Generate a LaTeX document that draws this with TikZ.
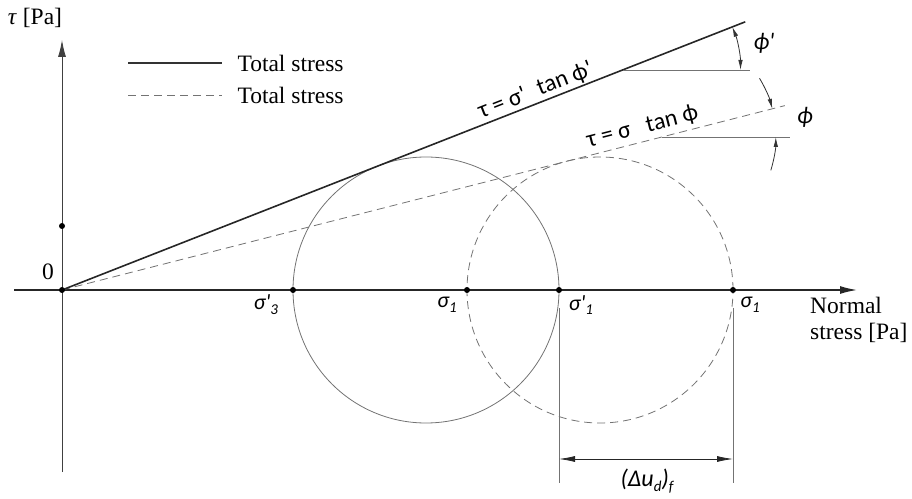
\documentclass[tikz,border=0pt]{standalone}
\usepackage{fontspec}
\setmainfont{Liberation Serif}
\newfontfamily\carl{Carlito}
\usetikzlibrary{arrows.meta,calc}
\newcommand\lsub[1]{\raisebox{-0.45ex}{\fontsize{15}{15}\selectfont #1}}
\begin{document}
\begin{tikzpicture}[x=1pt,y=1pt,
  thinl/.style={draw=black!55, line width=0.8pt},
  axisl/.style={draw=black!85, line width=1.4pt},
  yaxisl/.style={draw=black!75, line width=0.9pt},
  envel/.style={draw=black!85, line width=1.6pt},
  dashl/.style={draw=black!55, line width=0.8pt, dash pattern=on 8pt off 5pt},
  mohr/.style={circle, inner sep=0pt, outer sep=0pt, minimum size=266pt, line width=0.8pt},
  dotn/.style={circle, fill=black, inner sep=0pt, minimum size=6pt},
  serift/.style={font=\fontsize{23.5}{26}\selectfont},
  sanst/.style={font=\carl\fontsize{24}{24}\selectfont},
  sansi/.style={font=\carl\itshape\fontsize{22}{22}\selectfont},
  bigtip/.style={-{Latex[length=17pt,width=8pt]}},
  arctip/.style={{Latex[length=10pt,width=4.5pt]}-{Latex[length=10pt,width=4.5pt]}},
  arcone/.style={-{Latex[length=10pt,width=4.5pt]}},
  dimtip/.style={{Latex[length=16pt,width=6pt]}-{Latex[length=16pt,width=6pt]}}
]
\useasboundingbox (0,0) rectangle (912,498);
% axes
\coordinate (O) at (62,208);
\coordinate (xs) at (14,208);
\coordinate (xe) at (857,208);
\coordinate (ys) at (62,26);
\coordinate (ye) at (62,458);
\draw[axisl,bigtip] (xs) -- (xe);
\draw[yaxisl,bigtip] (ys) -- (ye);
\node[serift] (tau) at (35,480) {\textit{τ} [Pa]};
\node[serift, align=left, anchor=north west, inner sep=0pt] (nst) at (810,201) {Normal\\stress [Pa]};
\node[serift] (zero) at (48,226) {0};
% Mohr circles
\node[mohr, draw=black!55] (m1) at (426,208) {};
\node[mohr, dashl] (m2) at (600,208) {};
% envelopes
\coordinate (e1) at ($(O)+(21.43:734)$);
\coordinate (e2) at ($(O)+(14.31:746)$);
\draw[dashl] (O) -- (e2);
\draw[envel] (O) -- (e1);
\node[sanst, rotate=21.43, anchor=south, inner sep=2pt] (f1) at ($(O)!0.70!(e1)$) {τ = σ'\hspace{0.3em} tan ϕ'};
\node[sanst, rotate=14.31, anchor=south, inner sep=4pt] (f2) at ($(O)!0.808!(e2)$) {τ = σ\hspace{0.45em} tan ϕ};
% points
\node[dotn] (p0) at (O) {};
\node[dotn] (py) at (62,272) {};
\node[dotn] (p3) at (293,208) {};
\node[dotn] (p1) at (467,208) {};
\node[dotn] (p1p) at (559,208) {};
\node[dotn] (p1b) at (733,208) {};
\node[sansi] (l3) at (266,193) {σ'\lsub{3}};
\node[sansi] (l1) at (447,193) {σ\lsub{1}};
\node[sansi] (l1p) at (581,193) {σ'\lsub{1}};
\node[sansi] (l1b) at (750,193) {σ\lsub{1}};
% angle phi'
\coordinate (a1) at (622.5,428);
\coordinate (a1e) at (750,428);
\draw[thinl] (a1) -- (a1e);
\draw[thinl, draw=black!80, arctip] ($(a1)+(0:118)$) arc[start angle=0, end angle=21.43, radius=118];
\node[sansi, font=\carl\itshape\fontsize{24}{24}\selectfont] (phip) at (764,455) {ϕ'};
% angle phi
\coordinate (a2) at (661.8,361);
\coordinate (a2e) at (790,361);
\draw[thinl] (a2) -- (a2e);
\draw[thinl, draw=black!80, arcone] ($(a2)+(31:114)$) arc[start angle=31, end angle=14.31, radius=114];
\draw[thinl, draw=black!80, arcone] ($(a2)+(-17:114)$) arc[start angle=-17, end angle=0, radius=114];
\node[sansi, font=\carl\itshape\fontsize{24}{24}\selectfont] (phi) at (805,381) {ϕ};
% dimension
\coordinate (d1t) at (559,190);
\coordinate (d1b) at (559,15);
\coordinate (d2t) at (733,190);
\coordinate (d2b) at (733,15);
\coordinate (d1) at (559,39);
\coordinate (d2) at (733,39);
\draw[thinl] (d1t) -- (d1b);
\draw[thinl] (d2t) -- (d2b);
\draw[thinl, draw=black!85, dimtip] (d1) -- (d2);
\node[sansi, font=\carl\itshape\fontsize{24}{24}\selectfont] (du) at (647,17) {(Δu\lsub{d})\lsub{f}};
% legend
\coordinate (lg1a) at (128,435);
\coordinate (lg1b) at (222,435);
\coordinate (lg2a) at (128,403);
\coordinate (lg2b) at (222,403);
\draw[thinl, draw=black!80, line width=1.2pt] (lg1a) -- (lg1b);
\draw[dashl] (lg2a) -- (lg2b);
\node[serift, anchor=west] (lt1) at (234,435) {Total stress};
\node[serift, anchor=west] (lt2) at (234,403) {Total stress};
\end{tikzpicture}
\end{document}
